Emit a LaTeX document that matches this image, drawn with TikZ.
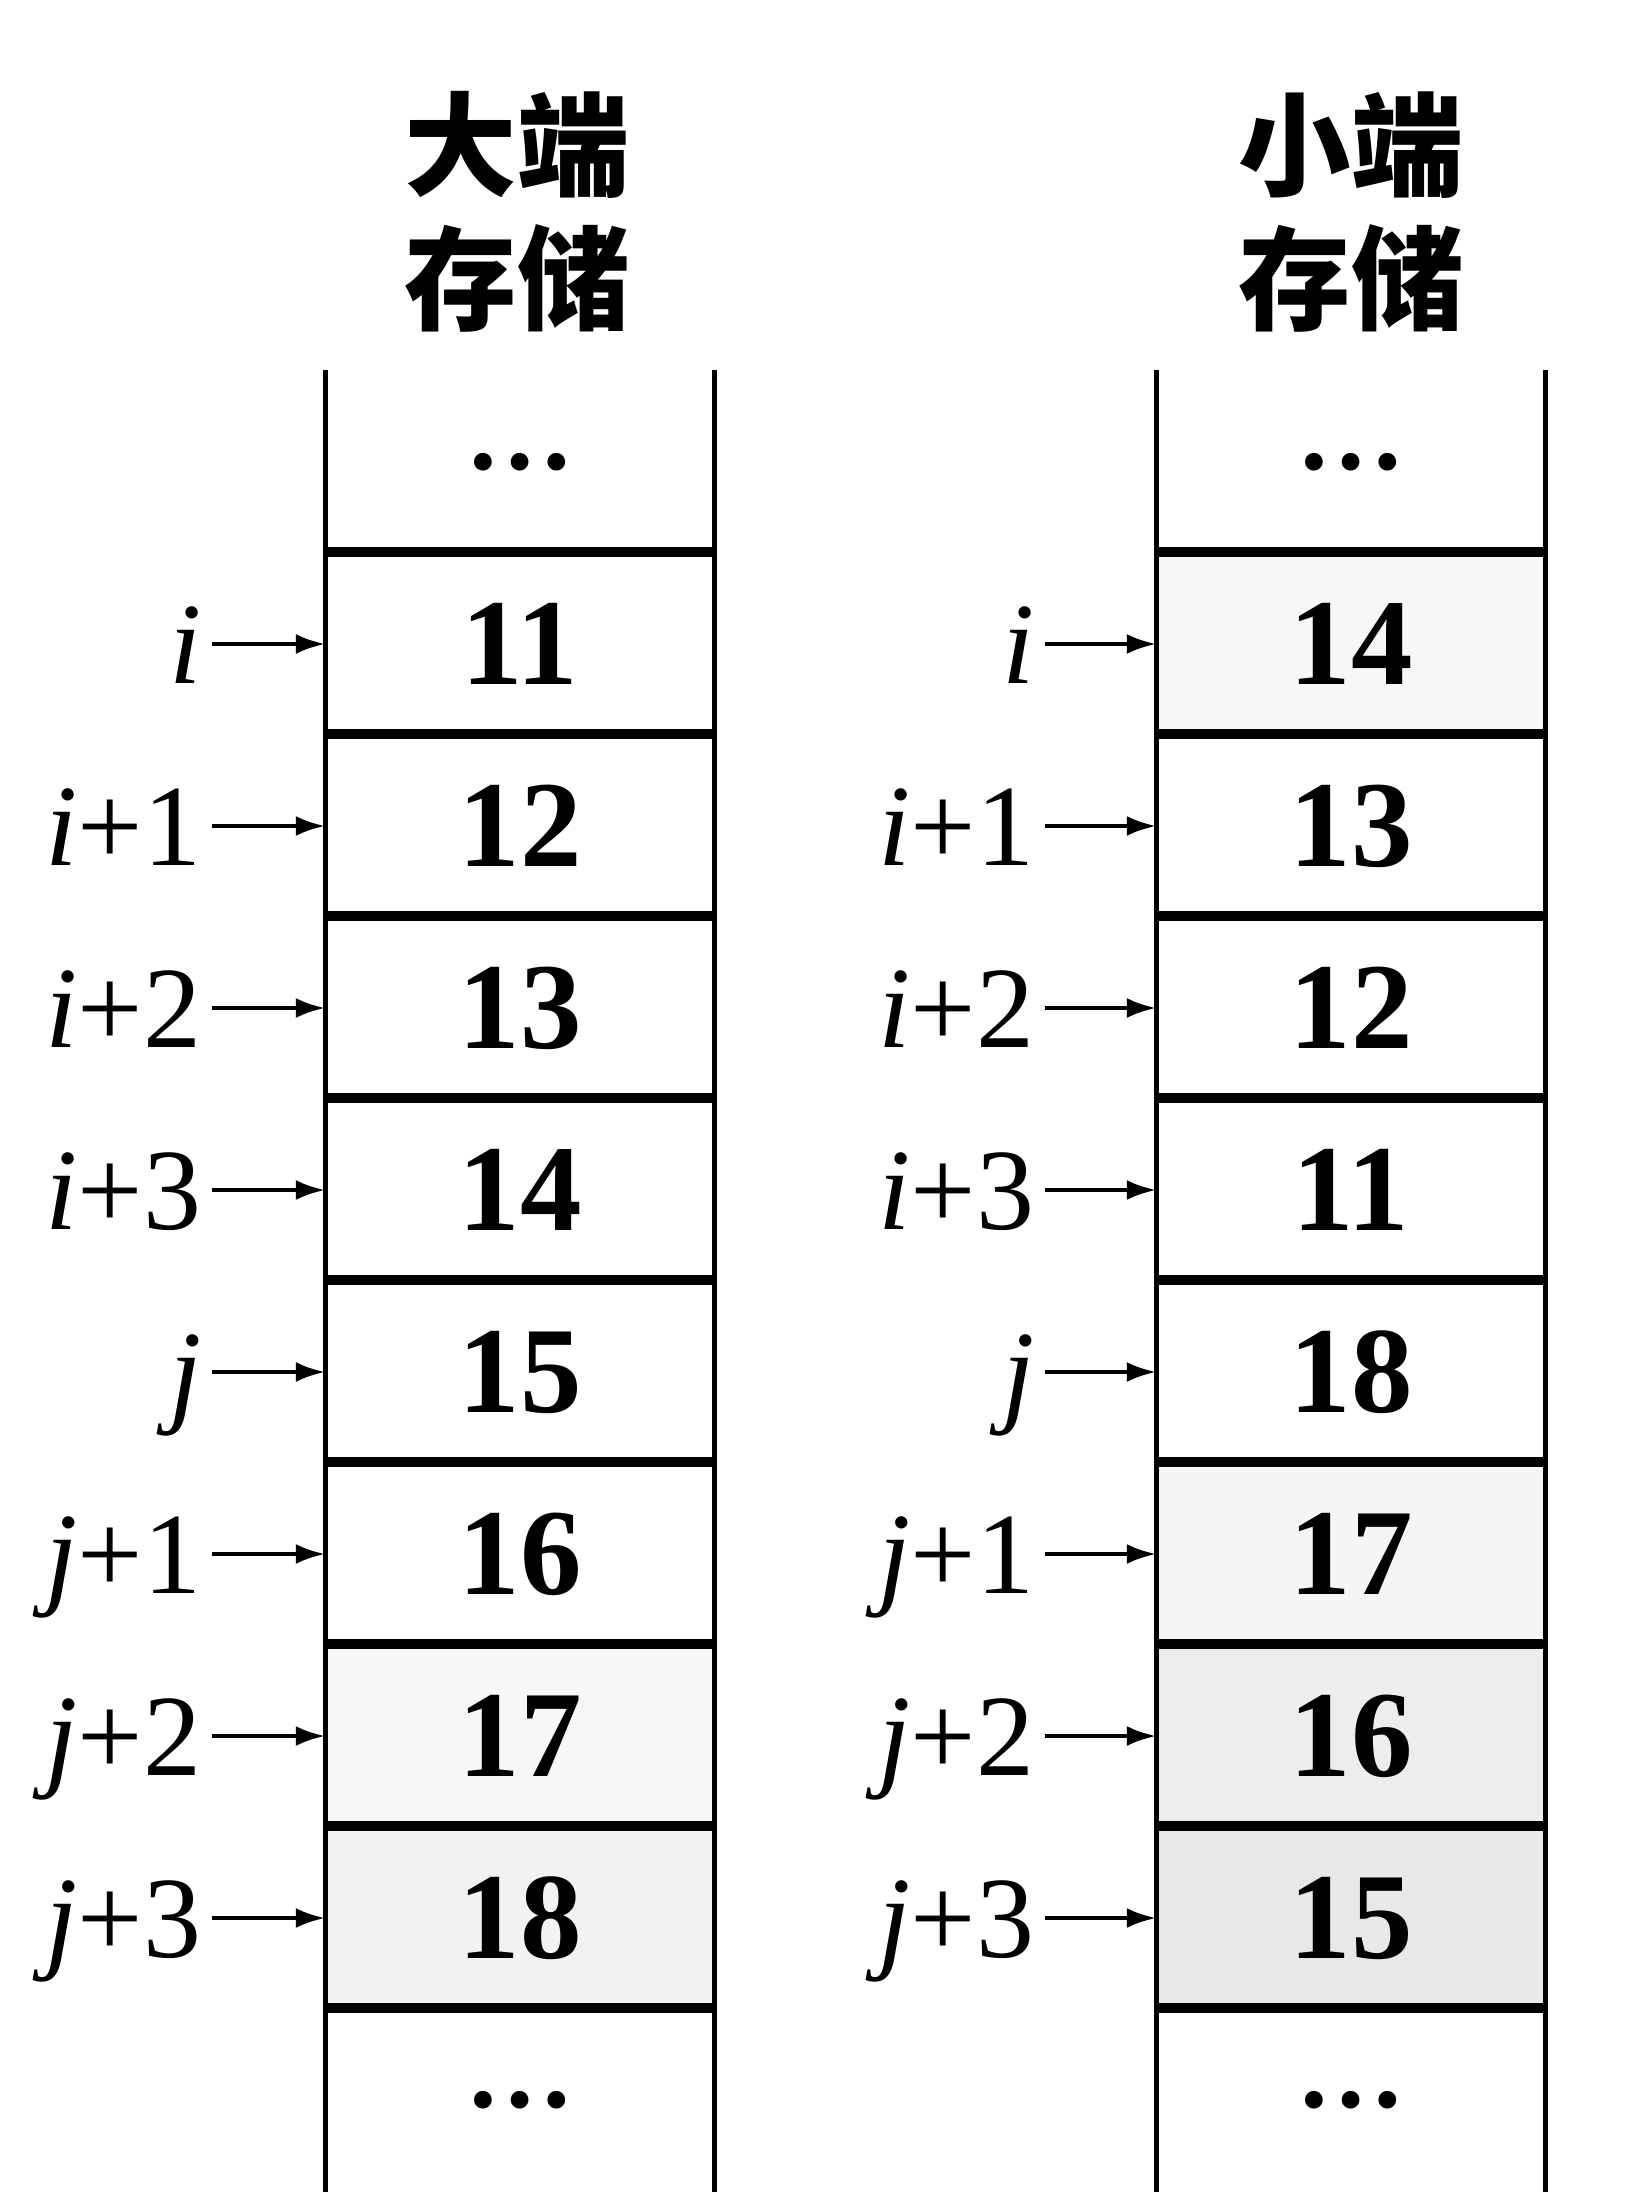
\documentclass[tikz,border=0pt]{standalone}
\usepackage{fontspec}
\setmainfont{Liberation Serif}
\newfontfamily\cjk{Noto Sans CJK SC}
\usetikzlibrary{arrows.meta}

\newcommand\mydots{{\fontsize{31}{34}\selectfont\bfseries …}}

\tikzset{
  cell/.style={minimum width=3.87cm, minimum height=1.82cm, inner sep=0pt,
    font=\fontsize{35}{40}\selectfont\bfseries},
  lab/.style={anchor=east, inner sep=0pt, text height=0.79cm, text depth=0cm,
    font=\fontsize{33}{38}\selectfont},
  ptr/.style={-{Latex[length=3mm,width=2mm]}, line width=1.4pt},
  wall/.style={line width=1.5pt},
  sep/.style={line width=2.8pt},
  title/.style={align=center, font=\cjk\bfseries\fontsize{32}{38}\selectfont},
}

\begin{document}
\begin{tikzpicture}
  \useasboundingbox (0,0) rectangle (16.44,-22.12);
  % titles
  \node[title] (tbig) at (5.17,-2.12) {大端\\存储};
  \node[title] (tlit) at (13.51,-2.12) {小端\\存储};
  % big endian
  \foreach \k/\v/\f in {0/\mydots/white,1/11/white,2/12/white,3/13/white,4/14/white,
      5/15/white,6/16/white,7/17/black!3,8/18/black!5,9/\mydots/white}
    \node[cell, fill=\f] (B\k) at (5.20,-4.62-1.82*\k) {\v};
  % little endian
  \foreach \k/\v/\f in {0/\mydots/white,1/14/black!3,2/13/white,3/12/white,4/11/white,
      5/18/white,6/17/black!4,7/16/black!7,8/15/black!9,9/\mydots/white}
    \node[cell, fill=\f] (S\k) at (13.51,-4.62-1.82*\k) {\v};
  \foreach \m in {B,S} {
    \draw[wall] (\m0.north west) -- (\m9.south west);
    \draw[wall] (\m0.north east) -- (\m9.south east);
    \foreach \k in {1,...,9}
      \draw[sep] (\m\k.north west) -- (\m\k.north east);
  }
  % addresses
  \foreach \k/\t in {1/\textit{i},2/\textit{i}+1,3/\textit{i}+2,4/\textit{i}+3,
      5/\textit{j},6/\textit{j}+1,7/\textit{j}+2,8/\textit{j}+3} {
    \node[lab] (ba\k) at (2.02,-4.62-1.82*\k) {\t};
    \draw[ptr] ([xshift=1mm]ba\k.east) -- (B\k.west);
    \node[lab] (sa\k) at (10.35,-4.62-1.82*\k) {\t};
    \draw[ptr] ([xshift=1mm]sa\k.east) -- (S\k.west);
  }
\end{tikzpicture}
\end{document}
